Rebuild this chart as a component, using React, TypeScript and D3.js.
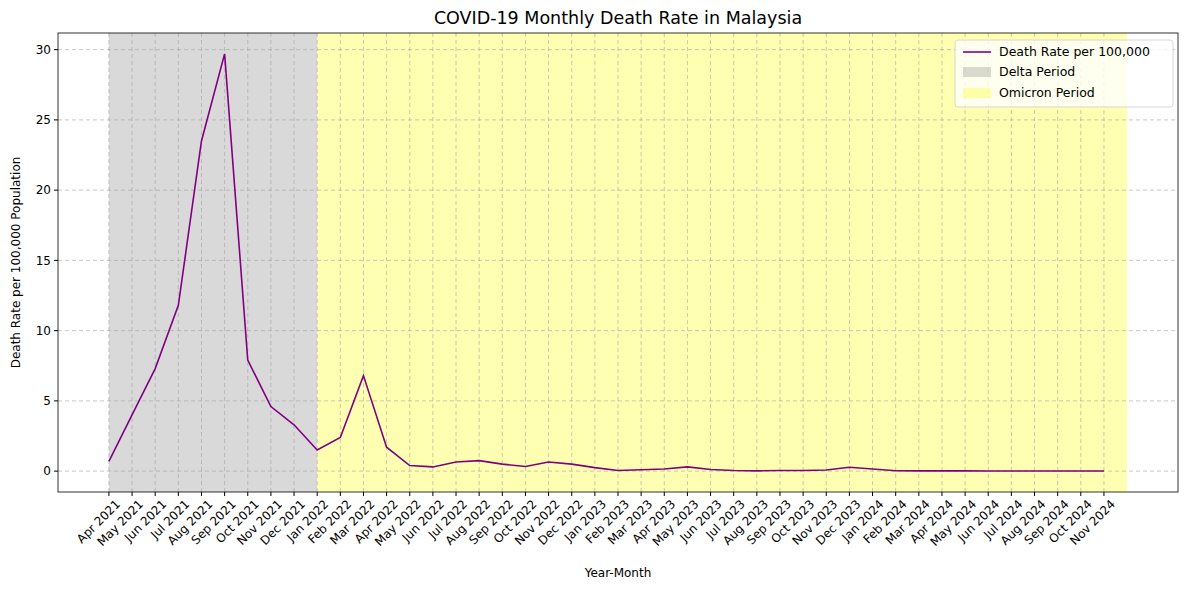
import React from 'react';
import * as d3 from 'd3';

const months = ['Apr 2021','May 2021','Jun 2021','Jul 2021','Aug 2021','Sep 2021','Oct 2021','Nov 2021','Dec 2021',
  'Jan 2022','Feb 2022','Mar 2022','Apr 2022','May 2022','Jun 2022','Jul 2022','Aug 2022','Sep 2022','Oct 2022','Nov 2022','Dec 2022',
  'Jan 2023','Feb 2023','Mar 2023','Apr 2023','May 2023','Jun 2023','Jul 2023','Aug 2023','Sep 2023','Oct 2023','Nov 2023','Dec 2023',
  'Jan 2024','Feb 2024','Mar 2024','Apr 2024','May 2024','Jun 2024','Jul 2024','Aug 2024','Sep 2024','Oct 2024','Nov 2024'];
const deathRate = [0.7, 4.0, 7.3, 11.8, 23.5, 29.7, 7.9, 4.6, 3.3,
  1.5, 2.4, 6.8, 1.7, 0.4, 0.3, 0.65, 0.75, 0.5, 0.33, 0.65, 0.5,
  0.25, 0.05, 0.1, 0.15, 0.3, 0.12, 0.05, 0.02, 0.05, 0.04, 0.08, 0.28,
  0.15, 0.03, 0.02, 0.02, 0.02, 0.01, 0.01, 0.01, 0.01, 0.01, 0.01];
const yTicks = [0, 5, 10, 15, 20, 25, 30];
const deltaSpan = [0, 9];
const omicronSpan = [9, 44];

const W = 1189, H = 590;
const m = { left: 58, right: 1178, top: 33, bottom: 492 };

export default function App() {
  const x = d3.scaleLinear().domain([-2.2, 46.2]).range([m.left, m.right]);
  const y = d3.scaleLinear().domain([-1.485, 31.185]).range([m.bottom, m.top]);
  const line = d3.line<number>().x((_, i) => x(i)).y(d => y(d));
  const font = 'DejaVu Sans, sans-serif';
  return (
    <svg width={W} height={H} style={{ position: 'absolute', left: 0, top: 0, fontFamily: font }}>
      <rect width={W} height={H} fill="#fff" />
      <rect x={x(deltaSpan[0])} y={m.top} width={x(deltaSpan[1]) - x(deltaSpan[0])} height={m.bottom - m.top} fill="#808080" opacity={0.3} />
      <rect x={x(omicronSpan[0])} y={m.top} width={x(omicronSpan[1]) - x(omicronSpan[0])} height={m.bottom - m.top} fill="#ffff00" opacity={0.3} />
      {months.map((_, i) => (
        <line key={'gx' + i} x1={x(i)} x2={x(i)} y1={m.top} y2={m.bottom} stroke="#a0a0a0" strokeDasharray="4,3" strokeWidth={0.8} opacity={0.7} />
      ))}
      {yTicks.map(t => (
        <line key={'gy' + t} x1={m.left} x2={m.right} y1={y(t)} y2={y(t)} stroke="#a0a0a0" strokeDasharray="4,3" strokeWidth={0.8} opacity={0.7} />
      ))}
      <path d={line(deathRate) || ''} fill="none" stroke="purple" strokeWidth={1.6} />
      <rect x={m.left} y={m.top} width={m.right - m.left} height={m.bottom - m.top} fill="none" stroke="#000" strokeWidth={0.8} />
      {yTicks.map(t => (
        <g key={'yt' + t}>
          <line x1={m.left - 4} x2={m.left} y1={y(t)} y2={y(t)} stroke="#000" />
          <text x={m.left - 7} y={y(t)} dy="0.35em" textAnchor="end" fontSize={12}>{t}</text>
        </g>
      ))}
      {months.map((mo, i) => (
        <g key={'xt' + i}>
          <line x1={x(i)} x2={x(i)} y1={m.bottom} y2={m.bottom + 4} stroke="#000" />
          <text transform={`translate(${x(i) + 6},${m.bottom + 7}) rotate(-45)`} textAnchor="end" dy="0.7em" fontSize={12}>{mo}</text>
        </g>
      ))}
      <text x={(m.left + m.right) / 2} y={577} textAnchor="middle" fontSize={12}>Year-Month</text>
      <text transform={`translate(20,${(m.top + m.bottom) / 2}) rotate(-90)`} textAnchor="middle" fontSize={12}>Death Rate per 100,000 Population</text>
      <text x={(m.left + m.right) / 2} y={24} textAnchor="middle" fontSize={17.5}>COVID-19 Monthly Death Rate in Malaysia</text>
      <g transform="translate(955,40)">
        <rect width={218} height={67} rx={3} fill="#fff" opacity={0.8} stroke="#d0d0d0" />
        <line x1={8} x2={36} y1={12} y2={12} stroke="purple" strokeWidth={1.6} />
        <text x={44} y={12} dy="0.35em" fontSize={12.5}>Death Rate per 100,000</text>
        <rect x={8} y={27} width={28} height={10} fill="#808080" opacity={0.3} />
        <text x={44} y={32} dy="0.35em" fontSize={12.5}>Delta Period</text>
        <rect x={8} y={48} width={28} height={10} fill="#ffff00" opacity={0.3} />
        <text x={44} y={53} dy="0.35em" fontSize={12.5}>Omicron Period</text>
      </g>
    </svg>
  );
}
